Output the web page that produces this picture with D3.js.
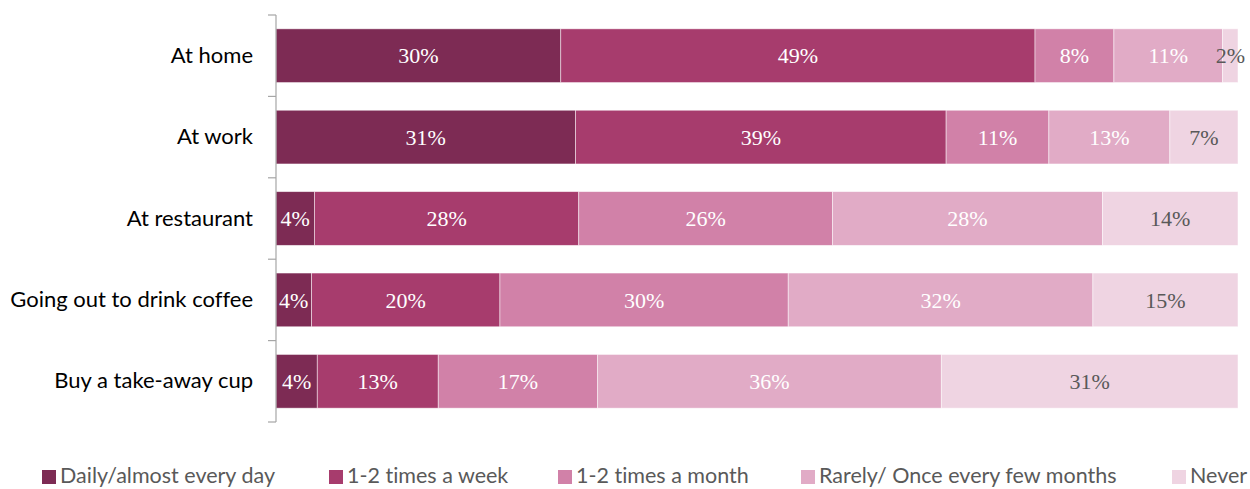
<!DOCTYPE html>
<html>
<head>
<meta charset="utf-8">
<script src="https://cdn.jsdelivr.net/npm/d3@7"></script>
<style>
  html, body { margin: 0; padding: 0; background: #fff; }
  svg { display: block; }
  text { font-variant-ligatures: none; }
</style>
</head>
<body>
<svg id="chart" width="1250" height="489"></svg>
<script>
const categories = ["At home", "At work", "At restaurant", "Going out to drink coffee", "Buy a take-away cup"];
const seriesNames = ["Daily/almost every day", "1-2 times a week", "1-2 times a month", "Rarely/ Once every few months", "Never"];
const daily   = [29.6, 31.2, 4.0, 3.7, 4.3];
const weekly  = [49.3, 38.6, 27.5, 19.6, 12.6];
const monthly = [8.2, 10.7, 26.4, 30.0, 16.6];
const rarely  = [11.3, 12.6, 28.1, 31.7, 35.8];
const never   = [1.6, 7.1, 14.1, 15.1, 30.9];
const colors = ["#7D2B54", "#A73C6D", "#D181A8", "#E1ABC6", "#EFD4E2"];
const labelColors = ["#ffffff", "#ffffff", "#ffffff", "#ffffff", "#595959"];

(function () {
const seriesValues = [daily, weekly, monthly, rarely, never];
const rows = categories.map((c, i) => {
  const o = { category: c };
  seriesNames.forEach((s, j) => { o[s] = seriesValues[j][i]; });
  return o;
});

const svg = d3.select("#chart");
const plotLeft = 276, plotRight = 1238, plotTop = 15, plotBottom = 422;

const stack = d3.stack().keys(seriesNames).offset(d3.stackOffsetExpand);
const stacked = stack(rows);

const x = d3.scaleLinear().domain([0, 1]).range([plotLeft, plotRight]);
const y = d3.scaleBand().domain(categories).range([plotTop, plotBottom]).paddingInner(0.34).paddingOuter(0.17);

const g = svg.append("g");
stacked.forEach((layer, j) => {
  const lg = g.append("g");
  lg.selectAll("rect").data(layer).join("rect")
    .attr("x", d => x(d[0]))
    .attr("y", d => y(d.data.category))
    .attr("width", d => x(d[1]) - x(d[0]))
    .attr("height", y.bandwidth())
    .attr("fill", colors[j])
    .attr("stroke", "#ffffff")
    .attr("stroke-opacity", 0.6)
    .attr("stroke-width", 0.8);
  lg.selectAll("text").data(layer).join("text")
    .attr("x", d => (x(d[0]) + x(d[1])) / 2)
    .attr("y", d => y(d.data.category) + y.bandwidth() / 2)
    .attr("dy", "0.35em")
    .attr("text-anchor", "middle")
    .attr("font-family", "'Liberation Serif', serif")
    .attr("font-size", 22)
    .attr("fill", labelColors[j])
    .text(d => Math.round(d.data[seriesNames[j]]) + "%");
});

const axis = d3.axisLeft(y).tickSize(0).tickPadding(23);
const ag = svg.append("g").attr("transform", `translate(${plotLeft},0)`).call(axis);
ag.select(".domain").remove();
ag.selectAll("text")
  .attr("font-family", "Lato, 'Open Sans', sans-serif")
  .attr("font-size", 22)
  .attr("fill", "#000");

svg.append("line")
  .attr("x1", plotLeft).attr("x2", plotLeft).attr("y1", plotTop).attr("y2", plotBottom)
  .attr("stroke", "#A6A6A6").attr("stroke-width", 1.2);
const step = y.step();
svg.append("g").selectAll("line").data(d3.range(categories.length + 1)).join("line")
  .attr("x1", plotLeft - 8).attr("x2", plotLeft)
  .attr("y1", i => plotTop + i * step).attr("y2", i => plotTop + i * step)
  .attr("stroke", "#A6A6A6").attr("stroke-width", 1.2);

const legendX = [42, 329, 558, 801, 1172];
const lgd = svg.append("g");
seriesNames.forEach((s, j) => {
  lgd.append("rect").attr("x", legendX[j]).attr("y", 470).attr("width", 14).attr("height", 14).attr("fill", colors[j]);
  lgd.append("text").attr("x", legendX[j] + 18).attr("y", 483)
    .attr("font-family", "Lato, 'Open Sans', sans-serif")
    .attr("font-size", 21.5)
    .attr("fill", "#595959")
    .text(s);
});
})();
</script>
</body>
</html>
